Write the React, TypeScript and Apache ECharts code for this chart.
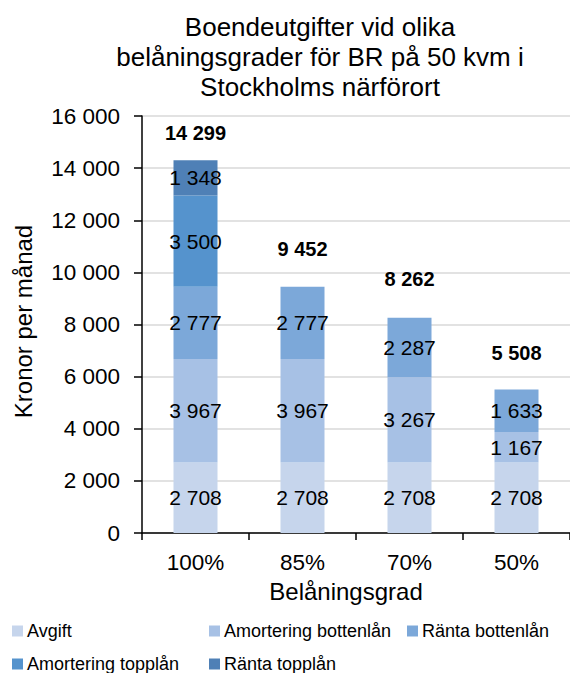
import React, { useEffect, useRef } from "react";
import * as echarts from "echarts";

const categories = ["100%", "85%", "70%", "50%"];
const seriesNames = [
  "Avgift",
  "Amortering bottenlån",
  "Ränta bottenlån",
  "Amortering topplån",
  "Ränta topplån",
];
const avgift = [2708, 2708, 2708, 2708];
const amorteringBotten = [3967, 3967, 3267, 1167];
const rantaBotten = [2777, 2777, 2287, 1633];
const amorteringTopp = [3500, 0, 0, 0];
const rantaTopp = [1348, 0, 0, 0];
const totals = [14299, 9452, 8262, 5508];
const yTicks = [0, 2000, 4000, 6000, 8000, 10000, 12000, 14000, 16000];

const colors = ["#C6D5EC", "#A7C1E5", "#7CA8D9", "#5593CD", "#4F80B6"];
const totalLabelDistance = [17, 28, 28.5, 26];
const legendPos = [
  [12, 622],
  [209, 622],
  [407, 622],
  [12, 655],
  [209, 655],
];

const FONT = "'Liberation Sans', Arial, sans-serif";
const fmt = (v: number) => String(v).replace(/\B(?=(\d{3})+(?!\d))/g, " ");

export default function App() {
  const ref = useRef<HTMLDivElement>(null);
  useEffect(() => {
    if (!ref.current) return;
    const chart = echarts.init(ref.current, undefined, { renderer: "svg" });
    const values = [avgift, amorteringBotten, rantaBotten, amorteringTopp, rantaTopp];
    const barSeries = seriesNames.map((name, i) => ({
      name,
      type: "bar",
      stack: "total",
      barWidth: 44,
      data: values[i],
      itemStyle: { color: colors[i] },
      label: {
        show: true,
        position: "inside",
        color: "#000",
        fontSize: 21,
        fontFamily: FONT,
        formatter: (p: any) => (p.value ? fmt(p.value) : ""),
      },
    }));
    chart.setOption({
      animation: false,
      textStyle: { fontFamily: FONT },
      grid: { left: 142, top: 116, width: 440, height: 417, containLabel: false },
      xAxis: {
        type: "category",
        data: categories,
        axisLine: { lineStyle: { color: "#000", width: 1.5 } },
        axisTick: { show: true, length: 7, lineStyle: { color: "#000", width: 1.5 } },
        axisLabel: { color: "#000", fontSize: 22.5, margin: 18, fontFamily: FONT },
      },
      yAxis: {
        type: "value",
        min: yTicks[0],
        max: yTicks[yTicks.length - 1],
        interval: 2000,
        axisLine: { show: true, lineStyle: { color: "#000", width: 1.5 } },
        axisTick: { show: true, length: 8, lineStyle: { color: "#000", width: 1.5 } },
        axisLabel: {
          color: "#000",
          fontSize: 22.5,
          margin: 22,
          fontFamily: FONT,
          formatter: (v: number) => fmt(v),
        },
        splitLine: { show: true, lineStyle: { color: "#D9D9D9", width: 1.5 } },
      },
      legend: seriesNames.map((name, i) => ({
        data: [name],
        left: legendPos[i][0],
        top: legendPos[i][1],
        padding: 0,
        itemWidth: 11,
        itemHeight: 11,
        icon: "rect",
        textStyle: { fontSize: 18, color: "#000", fontFamily: FONT, padding: [0, 0, 0, -1] },
        selectedMode: false,
      })),
      graphic: [
        {
          type: "text",
          x: 320,
          y: 12,
          style: {
            text: "Boendeutgifter vid olika\nbelåningsgrader för BR på 50 kvm i\nStockholms närförort",
            fontSize: 26,
            lineHeight: 30,
            fontFamily: FONT,
            fill: "#000",
            textAlign: "center",
            textVerticalAlign: "top",
          },
        },
        {
          type: "text",
          x: 23,
          y: 321.5,
          rotation: Math.PI / 2,
          style: {
            text: "Kronor per månad",
            fontSize: 24,
            fontFamily: FONT,
            fill: "#000",
            textAlign: "center",
            textVerticalAlign: "middle",
          },
        },
        {
          type: "text",
          x: 346,
          y: 591,
          style: {
            text: "Belåningsgrad",
            fontSize: 24,
            fontFamily: FONT,
            fill: "#000",
            textAlign: "center",
            textVerticalAlign: "middle",
          },
        },
      ],
      series: [
        ...barSeries,
        {
          name: "Total",
          type: "scatter",
          symbolSize: 0,
          itemStyle: { color: "#000", opacity: 1 },
          data: totals.map((v, i) => ({
            value: v,
            label: { distance: totalLabelDistance[i] },
          })),
          label: {
            show: true,
            position: "top",
            color: "#000",
            opacity: 1,
            fontWeight: "bold",
            fontSize: 20,
            fontFamily: FONT,
            formatter: (p: any) => fmt(p.value),
          },
          z: 10,
        },
      ],
    });
    return () => chart.dispose();
  }, []);
  return (
    <div
      ref={ref}
      style={{ position: "absolute", left: 0, top: 0, width: 570, height: 673, background: "#fff" }}
    />
  );
}
